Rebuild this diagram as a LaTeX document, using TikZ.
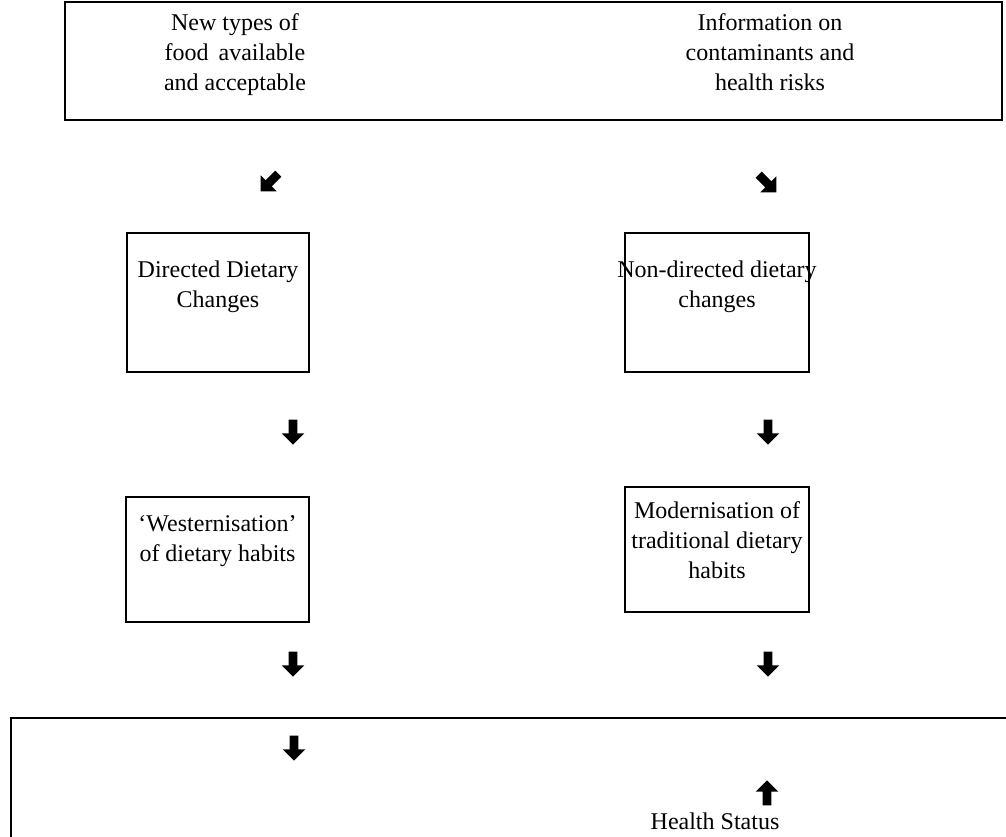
\documentclass[tikz,border=0pt]{standalone}
\usepackage{fontspec}
\setmainfont{Liberation Serif}
\usetikzlibrary{shapes.arrows}

\tikzset{
	box/.style={draw, line width=0.8pt, inner sep=0pt},
	txt/.style={align=center, inner sep=0pt, font=\fontsize{12}{15}\selectfont},
	fatarrow/.style={single arrow, fill=black, draw=none, inner sep=2pt, minimum width=11pt, minimum height=12.5pt, single arrow head extend=3.5pt}
}

\begin{document}
\begin{tikzpicture}[x=0.5pt,y=-0.5pt]
	\useasboundingbox (0,0) rectangle (1006,836);
	
	%top box
	\node[box, minimum width=468.5pt, minimum height=59pt] (top) at (533.5,61) {};
	\node[txt] (newfood) at (235,55) {New types of\\food\, available\\and acceptable};
	\node[txt] (info) at (770,52) {Information on\\contaminants and\\health risks};
	\node[fatarrow, rotate=-135] (arrsw) at (271,181) {};
	\node[fatarrow, rotate=-45] (arrse) at (766,182) {};
	
	%middle boxes
	\node[box, minimum width=91pt, minimum height=69.5pt] (directed) at (218,302.5) {};
	\node[txt] (directedtxt) at (218,287) {Directed Dietary\\Changes};
	\node[box, minimum width=92pt, minimum height=69.5pt] (nondirected) at (717,302.5) {};
	\node[txt] (nondirectedtxt) at (717,287) {Non-directed dietary\\changes};
	\node[fatarrow, rotate=-90] (arrl1) at (293,430) {};
	\node[fatarrow, rotate=-90] (arrr1) at (768,430) {};
	
	%lower boxes
	\node[box, minimum width=91.5pt, minimum height=62.5pt] (western) at (217.5,559.5) {};
	\node[txt] (westerntxt) at (217.5,541) {`Westernisation'\\of dietary habits};
	\node[box, minimum width=92pt, minimum height=62.5pt] (modern) at (717,549.5) {};
	\node[txt] (moderntxt) at (717,540) {Modernisation of\\traditional dietary\\habits};
	\node[fatarrow, rotate=-90] (arrl2) at (293,662) {};
	\node[fatarrow, rotate=-90] (arrr2) at (768,662) {};
	
	%health box, cut off at the edges
	\coordinate (hbl) at (11,840);
	\coordinate (htl) at (11,718);
	\coordinate (htr) at (1010,718);
	\draw[line width=0.8pt] (hbl) -- (htl) -- (htr);
	\node[fatarrow, rotate=-90] (arrdown) at (294,746) {};
	\node[fatarrow, rotate=90] (arrup) at (767,795) {};
	\node[txt] (health) at (715,821) {Health Status};
\end{tikzpicture}
\end{document}
